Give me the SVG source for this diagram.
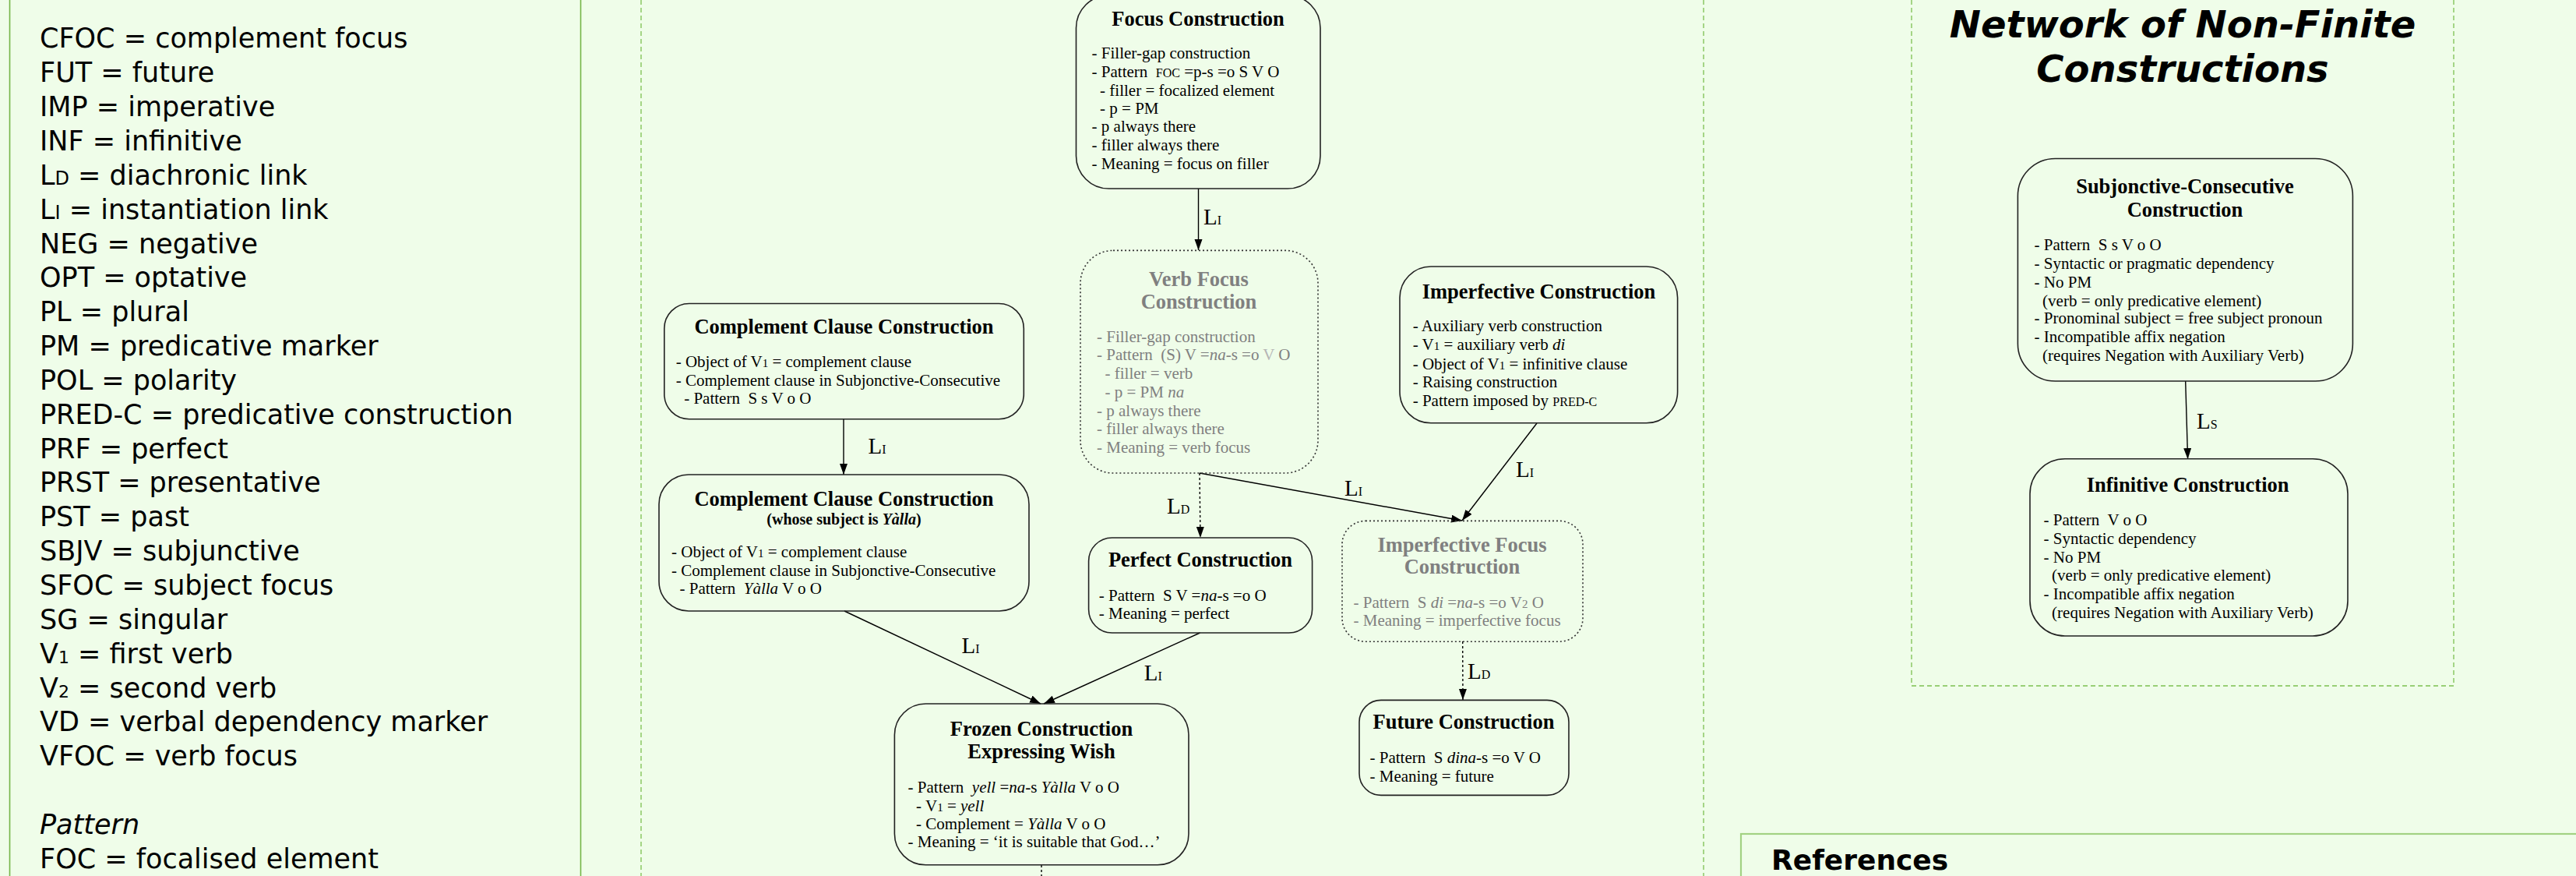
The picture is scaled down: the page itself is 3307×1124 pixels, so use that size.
<svg xmlns="http://www.w3.org/2000/svg" width="3307" height="1124" viewBox="0 0 3307 1124">
<defs>
<style>
.bg{fill:#effde9}
.leg{font-family:"DejaVu Sans",sans-serif;font-size:35px;fill:#000}
.node{fill:none;stroke:#222;stroke-width:1.6}
.dot{fill:none;stroke:#333;stroke-width:1.6;stroke-dasharray:2 3}
.t{font-family:"Liberation Serif",serif;font-weight:bold;font-size:26.5px;fill:#000;text-anchor:middle}
.st{font-family:"Liberation Serif",serif;font-weight:bold;font-size:20px;fill:#000;text-anchor:middle}
.b{font-family:"Liberation Serif",serif;font-size:21px;fill:#000;white-space:pre}
.g{fill:#808080}
.lg{fill:#b5b5b5}
.sc{font-size:16px}
.sub{font-size:15px}
.lab{font-family:"Liberation Serif",serif;font-size:29px;fill:#000}
.ls{font-size:16px}
.con{fill:none;stroke:#000;stroke-width:1.4}
.cond{fill:none;stroke:#000;stroke-width:1.4;stroke-dasharray:3 3}
.panel{fill:none;stroke:#7cc050;stroke-width:1.3;stroke-dasharray:6 4}
</style>
<marker id="ah" markerUnits="userSpaceOnUse" markerWidth="16" markerHeight="12" refX="14" refY="5" orient="auto">
<path d="M0,0 L14,5 L0,10 z" fill="#000"/>
</marker>
</defs>
<rect class="bg" x="0" y="0" width="3307" height="1124"/>

<g id="legend">
<rect x="12.5" y="-20" width="733" height="1200" fill="none" stroke="#74b548" stroke-width="1.6"/>
<text class="leg" x="51" y="61.4">CFOC = complement focus</text>
<text class="leg" x="51" y="105.25">FUT = future</text>
<text class="leg" x="51" y="149.1">IMP = imperative</text>
<text class="leg" x="51" y="192.95">INF = infinitive</text>
<text class="leg" x="51" y="236.8">L<tspan font-size="24">D</tspan> = diachronic link</text>
<text class="leg" x="51" y="280.65">L<tspan font-size="24">I</tspan> = instantiation link</text>
<text class="leg" x="51" y="324.5">NEG = negative</text>
<text class="leg" x="51" y="368.35">OPT = optative</text>
<text class="leg" x="51" y="412.2">PL = plural</text>
<text class="leg" x="51" y="456.05">PM = predicative marker</text>
<text class="leg" x="51" y="499.9">POL = polarity</text>
<text class="leg" x="51" y="543.75">PRED-C = predicative construction</text>
<text class="leg" x="51" y="587.6">PRF = perfect</text>
<text class="leg" x="51" y="631.45">PRST = presentative</text>
<text class="leg" x="51" y="675.3">PST = past</text>
<text class="leg" x="51" y="719.15">SBJV = subjunctive</text>
<text class="leg" x="51" y="763">SFOC = subject focus</text>
<text class="leg" x="51" y="806.85">SG = singular</text>
<text class="leg" x="51" y="850.7">V<tspan font-size="22">1</tspan> = first verb</text>
<text class="leg" x="51" y="894.55">V<tspan font-size="22">2</tspan> = second verb</text>
<text class="leg" x="51" y="938.4">VD = verbal dependency marker</text>
<text class="leg" x="51" y="982.25">VFOC = verb focus</text>
<text class="leg" x="51" y="1069.95" font-style="italic">Pattern</text>
<text class="leg" x="51" y="1113.8">FOC = focalised element</text>
</g>

<g id="middle-panel">
<line class="panel" x1="823" y1="0" x2="823" y2="1124"/>
<line class="panel" x1="2187" y1="0" x2="2187" y2="1124"/>
</g>

<g id="right-panel">
<path class="panel" d="M2454,0 V880 H3150 V0"/>
<text x="2802" y="48" text-anchor="middle" font-family="DejaVu Sans,sans-serif" font-weight="bold" font-style="italic" font-size="48">Network of Non-Finite</text>
<text x="2802" y="105" text-anchor="middle" font-family="DejaVu Sans,sans-serif" font-weight="bold" font-style="italic" font-size="48">Constructions</text>
</g>

<g id="references">
<rect x="2235" y="1070" width="1100" height="100" fill="none" stroke="#a2d283" stroke-width="2.2"/>
<text x="2274" y="1116" font-family="DejaVu Sans,sans-serif" font-weight="bold" font-size="36">References</text>
</g>

<g id="connectors">
<line class="con" x1="1538.5" y1="242" x2="1538.5" y2="321" marker-end="url(#ah)"/>
<line class="con" x1="1083" y1="538" x2="1083" y2="609" marker-end="url(#ah)"/>
<line class="cond" x1="1540" y1="607" x2="1541" y2="690" marker-end="url(#ah)"/>
<line class="con" x1="1540" y1="607" x2="1877" y2="668" marker-end="url(#ah)"/>
<line class="con" x1="1973" y1="543" x2="1877" y2="668" marker-end="url(#ah)"/>
<line class="cond" x1="1877.7" y1="823" x2="1878" y2="898" marker-end="url(#ah)"/>
<line class="con" x1="1084" y1="784" x2="1336" y2="903" marker-end="url(#ah)"/>
<line class="con" x1="1540.5" y1="812" x2="1340" y2="903" marker-end="url(#ah)"/>
<line class="con" x1="2805.7" y1="489" x2="2808.6" y2="589" marker-end="url(#ah)"/>
<line class="cond" x1="1337" y1="1110" x2="1337" y2="1130"/>
<text class="lab" x="1545" y="288">L<tspan class="ls">I</tspan></text>
<text class="lab" x="1114.6" y="582">L<tspan class="ls">I</tspan></text>
<text class="lab" x="1498" y="659">L<tspan class="ls">D</tspan></text>
<text class="lab" x="1726" y="636">L<tspan class="ls">I</tspan></text>
<text class="lab" x="1946" y="612">L<tspan class="ls">I</tspan></text>
<text class="lab" x="1884" y="871">L<tspan class="ls">D</tspan></text>
<text class="lab" x="1234.5" y="838">L<tspan class="ls">I</tspan></text>
<text class="lab" x="1468.7" y="873">L<tspan class="ls">I</tspan></text>
<text class="lab" x="2820" y="550">L<tspan class="ls">S</tspan></text>
</g>

<g id="focus">
<rect class="node" x="1381.5" y="-6" width="313.5" height="248" rx="42"/>
<text class="t" x="1538" y="32.8">Focus Construction</text>
<text class="b" x="1401.6" y="75">- Filler-gap construction</text>
<text class="b" x="1401.6" y="98.9">- Pattern  <tspan class="sc">FOC</tspan> =p-s =o S V O</text>
<text class="b" x="1401.6" y="122.6">  - filler = focalized element</text>
<text class="b" x="1401.6" y="145.5">  - p = PM</text>
<text class="b" x="1401.6" y="169.2">- p always there</text>
<text class="b" x="1401.6" y="193">- filler always there</text>
<text class="b" x="1401.6" y="216.7">- Meaning = focus on filler</text>
</g>

<g id="verb-focus">
<rect class="dot" x="1387" y="321.4" width="305" height="285.6" rx="42"/>
<text class="t g" x="1539" y="367">Verb Focus</text>
<text class="t g" x="1539" y="395.7">Construction</text>
<text class="b g" x="1408" y="438.5">- Filler-gap construction</text>
<text class="b g" x="1408" y="462.4">- Pattern  (S) V =<tspan font-style="italic">na</tspan>-s =o <tspan class="lg">V</tspan> O</text>
<text class="b g" x="1408" y="485.6">  - filler = verb</text>
<text class="b g" x="1408" y="509.6">  - p = PM <tspan font-style="italic">na</tspan></text>
<text class="b g" x="1408" y="533.8">- p always there</text>
<text class="b g" x="1408" y="557">- filler always there</text>
<text class="b g" x="1408" y="581.3">- Meaning = verb focus</text>
</g>

<g id="imperfective">
<rect class="node" x="1797" y="342" width="356.6" height="200.8" rx="40"/>
<text class="t" x="1975.5" y="382.8">Imperfective Construction</text>
<text class="b" x="1813.7" y="425">- Auxiliary verb construction</text>
<text class="b" x="1813.7" y="449">- V<tspan class="sub">1</tspan> = auxiliary verb <tspan font-style="italic">di</tspan></text>
<text class="b" x="1813.7" y="473.5">- Object of V<tspan class="sub">1</tspan> = infinitive clause</text>
<text class="b" x="1813.7" y="496.7">- Raising construction</text>
<text class="b" x="1813.7" y="520.6">- Pattern imposed by <tspan class="sc">PRED-C</tspan></text>
</g>

<g id="perfect">
<rect class="node" x="1397.6" y="690" width="287" height="122" rx="30"/>
<text class="t" x="1541" y="726.6">Perfect Construction</text>
<text class="b" x="1410.8" y="770.5">- Pattern  S V =<tspan font-style="italic">na</tspan>-s =o O</text>
<text class="b" x="1410.8" y="793.7">- Meaning = perfect</text>
</g>

<g id="imperfective-focus">
<rect class="dot" x="1723" y="668.4" width="309" height="154.8" rx="30"/>
<text class="t g" x="1877" y="707.6">Imperfective Focus</text>
<text class="t g" x="1877" y="736.4">Construction</text>
<text class="b g" x="1737.5" y="779.8">- Pattern  S <tspan font-style="italic">di</tspan> =<tspan font-style="italic">na</tspan>-s =o V<tspan class="sub">2</tspan> O</text>
<text class="b g" x="1737.5" y="803.2">- Meaning = imperfective focus</text>
</g>

<g id="future">
<rect class="node" x="1745" y="898.4" width="269" height="122" rx="28"/>
<text class="t" x="1879" y="935">Future Construction</text>
<text class="b" x="1758.5" y="978.6">- Pattern  S <tspan font-style="italic">dina</tspan>-s =o V O</text>
<text class="b" x="1758.5" y="1002.7">- Meaning = future</text>
</g>

<g id="complement-clause">
<rect class="node" x="852.8" y="389.5" width="461.5" height="148.2" rx="32"/>
<text class="t" x="1083.5" y="427.8">Complement Clause Construction</text>
<text class="b" x="867.7" y="471.3">- Object of V<tspan class="sub">1</tspan> = complement clause</text>
<text class="b" x="867.7" y="495">- Complement clause in Subjonctive-Consecutive</text>
<text class="b" x="867.7" y="518">  - Pattern  S s V o O</text>
</g>

<g id="complement-clause-yalla">
<rect class="node" x="846" y="609" width="475" height="175" rx="38"/>
<text class="t" x="1083.5" y="648.7">Complement Clause Construction</text>
<text class="st" x="1083.5" y="673.3">(whose subject is <tspan font-style="italic">Yàlla</tspan>)</text>
<text class="b" x="862" y="715">- Object of V<tspan class="sub">1</tspan> = complement clause</text>
<text class="b" x="862" y="738.5">- Complement clause in Subjonctive-Consecutive</text>
<text class="b" x="862" y="761.6">  - Pattern  <tspan font-style="italic">Yàlla</tspan> V o O</text>
</g>

<g id="frozen">
<rect class="node" x="1148.4" y="903" width="377.6" height="206.8" rx="40"/>
<text class="t" x="1337" y="944">Frozen Construction</text>
<text class="t" x="1337" y="973">Expressing Wish</text>
<text class="b" x="1165.6" y="1016.7">- Pattern  <tspan font-style="italic">yell</tspan> =<tspan font-style="italic">na</tspan>-s <tspan font-style="italic">Yàlla</tspan> V o O</text>
<text class="b" x="1165.6" y="1040.9">  - V<tspan class="sub">1</tspan> = <tspan font-style="italic">yell</tspan></text>
<text class="b" x="1165.6" y="1064.3">  - Complement = <tspan font-style="italic">Yàlla</tspan> V o O</text>
<text class="b" x="1165.6" y="1087.4">- Meaning = ‘it is suitable that God…’</text>
</g>

<g id="subjonctive-consecutive">
<rect class="node" x="2590.4" y="203.5" width="430" height="285.5" rx="48"/>
<text class="t" x="2805" y="248">Subjonctive-Consecutive</text>
<text class="t" x="2805" y="277.7">Construction</text>
<text class="b" x="2611.6" y="321.3">- Pattern  S s V o O</text>
<text class="b" x="2611.6" y="344.5">- Syntactic or pragmatic dependency</text>
<text class="b" x="2611.6" y="368.8">- No PM</text>
<text class="b" x="2611.6" y="392.7">  (verb = only predicative element)</text>
<text class="b" x="2611.6" y="415.2">- Pronominal subject = free subject pronoun</text>
<text class="b" x="2611.6" y="439">- Incompatible affix negation</text>
<text class="b" x="2611.6" y="463">  (requires Negation with Auxiliary Verb)</text>
</g>

<g id="infinitive">
<rect class="node" x="2606" y="588.8" width="408" height="227.2" rx="45"/>
<text class="t" x="2808.6" y="631.2">Infinitive Construction</text>
<text class="b" x="2623.6" y="674.4">- Pattern  V o O</text>
<text class="b" x="2623.6" y="697.8">- Syntactic dependency</text>
<text class="b" x="2623.6" y="721.9">- No PM</text>
<text class="b" x="2623.6" y="745.2">  (verb = only predicative element)</text>
<text class="b" x="2623.6" y="768.6">- Incompatible affix negation</text>
<text class="b" x="2623.6" y="793">  (requires Negation with Auxiliary Verb)</text>
</g>
</svg>
